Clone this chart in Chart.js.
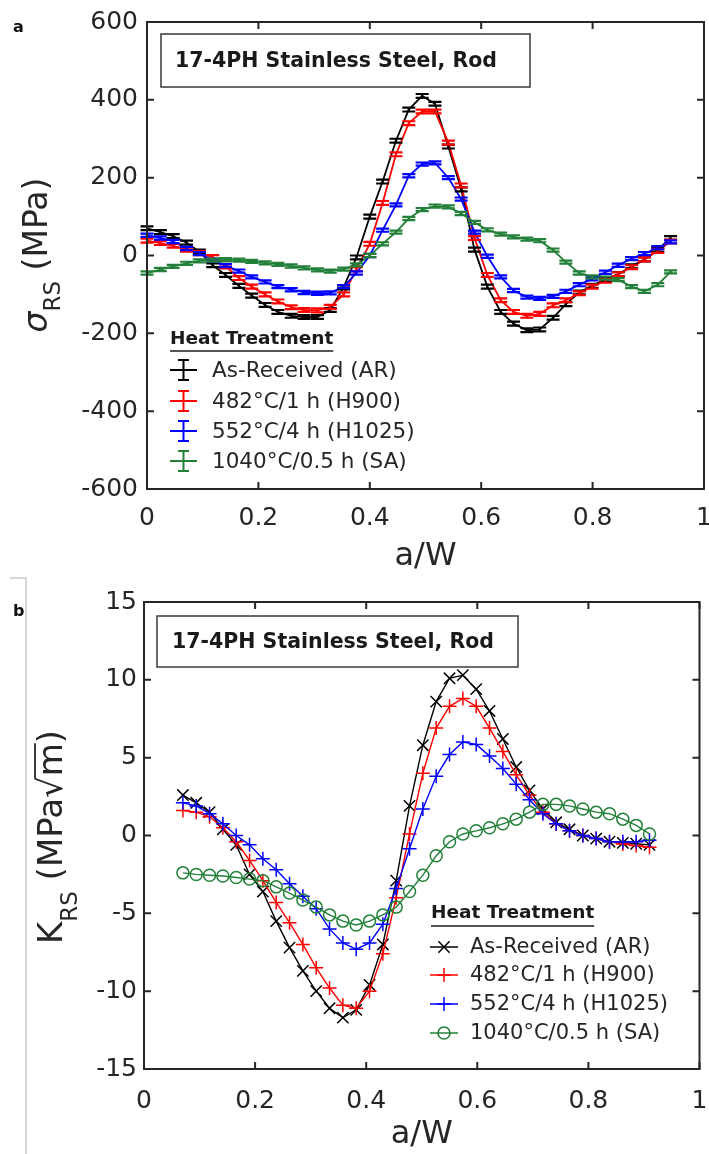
<!DOCTYPE html>
<html>
<head>
<meta charset="utf-8">
<script src="https://cdn.jsdelivr.net/npm/chart.js@4.4.1/dist/chart.umd.min.js"></script>
<style>
  body { margin: 0; background: #fff; width: 709px; height: 1154px; overflow: hidden; position: relative; }
  canvas { position: absolute; left: 0; }
  #stressChart { top: 0; }
  #kChart { top: 576px; }
</style>
</head>
<body>
<canvas id="stressChart" width="709" height="576"></canvas>
<canvas id="kChart" width="709" height="578"></canvas>
<script>
// residual stress profile, a/W positions
const stressDepth = [0.000, 0.024, 0.047, 0.071, 0.094, 0.118, 0.141, 0.165, 0.188, 0.212,
  0.235, 0.259, 0.282, 0.306, 0.329, 0.353, 0.376, 0.400, 0.423, 0.447,
  0.470, 0.494, 0.517, 0.541, 0.564, 0.588, 0.611, 0.635, 0.658, 0.682,
  0.705, 0.729, 0.752, 0.776, 0.799, 0.823, 0.846, 0.870, 0.893, 0.917, 0.940];

// sigma_RS (MPa)
const stressAR = [70, 60, 50, 33, 10, -25, -50, -78, -103, -127,
  -145, -155, -158, -158, -140, -82, -5, 100, 190, 295,
  375, 410, 390, 280, 170, 15, -80, -145, -175, -192,
  -190, -160, -125, -95, -78, -62, -48, -28, -10, 15, 45];
const stressH900 = [38, 32, 25, 15, 6, -4, -28, -58, -80, -100,
  -118, -133, -140, -141, -132, -100, -35, 30, 135, 260,
  340, 370, 370, 290, 180, 45, -50, -115, -145, -155,
  -150, -128, -115, -97, -80, -65, -48, -30, -10, 12, 36];
const stressH1025 = [52, 45, 36, 18, 5, -12, -26, -40, -55, -68,
  -80, -88, -95, -97, -96, -80, -45, 0, 65, 130,
  205, 235, 238, 200, 145, 60, -2, -55, -90, -107,
  -110, -105, -92, -75, -60, -43, -25, -8, 5, 20, 35];
const stressSA = [-45, -36, -28, -20, -14, -12, -11, -12, -15, -19,
  -23, -27, -32, -37, -40, -35, -24, 0, 30, 60,
  95, 118, 127, 125, 108, 85, 66, 55, 48, 42,
  38, 14, -17, -45, -55, -58, -62, -80, -92, -75, -42];
// half-length of the error bars (MPa)
const stressErr = [5, 5, 4, 4];

// stress intensity factor, a/W positions
const kDepth = [0.070, 0.094, 0.118, 0.142, 0.166, 0.190, 0.214, 0.238, 0.262, 0.286,
  0.310, 0.334, 0.358, 0.382, 0.406, 0.430, 0.454, 0.478, 0.502, 0.526,
  0.550, 0.574, 0.598, 0.622, 0.646, 0.670, 0.694, 0.718, 0.742, 0.766,
  0.790, 0.814, 0.838, 0.862, 0.886, 0.910];

// K_RS (MPa sqrt(m))
const kAR = [2.6, 2.1, 1.5, 0.4, -0.6, -2.5, -3.6, -5.5, -7.2, -8.7,
  -10.0, -11.1, -11.7, -11.2, -9.6, -7.0, -2.9, 1.9, 5.8, 8.6,
  10.1, 10.3, 9.4, 8.0, 6.2, 4.4, 2.9, 1.7, 0.85, 0.4,
  0.0, -0.2, -0.4, -0.47, -0.53, -0.6];
const kH900 = [1.6, 1.5, 1.2, 0.5, -0.4, -1.6, -2.9, -4.3, -5.6, -7.0,
  -8.5, -9.8, -10.9, -11.1, -10.0, -7.6, -4.0, 0.1, 4.0, 6.9,
  8.3, 8.8, 8.3, 6.9, 5.4, 3.9, 2.6, 1.5, 0.75, 0.3,
  0.0, -0.2, -0.4, -0.55, -0.65, -0.75];
const kH1025 = [2.1, 1.9, 1.4, 0.75, 0.0, -0.6, -1.5, -2.2, -3.1, -3.9,
  -4.7, -6.0, -6.9, -7.3, -6.9, -5.7, -3.4, -0.85, 1.7, 3.8,
  5.2, 6.0, 5.85, 5.1, 4.3, 3.3, 2.3, 1.4, 0.75, 0.3,
  0.0, -0.2, -0.4, -0.4, -0.4, -0.3];
const kSA = [-2.4, -2.5, -2.55, -2.6, -2.7, -2.8, -2.9, -3.3, -3.7, -4.15,
  -4.6, -5.1, -5.5, -5.75, -5.5, -5.1, -4.6, -3.6, -2.55, -1.3,
  -0.4, 0.1, 0.3, 0.5, 0.75, 1.05, 1.5, 2.0, 2.0, 1.9,
  1.7, 1.5, 1.4, 1.05, 0.65, 0.1];

const seriesNames = ['As-Received (AR)', '482°C/1 h (H900)', '552°C/4 h (H1025)', '1040°C/0.5 h (SA)'];
const seriesColors = ['#000000', '#ff0000', '#0000ff', '#228038'];
const kMarkers = ['crossRot', 'cross', 'cross', 'circle'];

const xTicks = [0, 0.2, 0.4, 0.6, 0.8, 1];
const stressTicks = [-600, -400, -200, 0, 200, 400, 600];
const kTicks = [-15, -10, -5, 0, 5, 10, 15];

const boxTitle = '17-4PH Stainless Steel, Rod';
const legendTitle = 'Heat Treatment';

const FONT = "'DejaVu Sans', sans-serif";
const axisColor = '#262626';
Chart.defaults.font.family = FONT;
Chart.defaults.color = axisColor;

function xAxis(boxHeight, tickPad) {
  return {
    type: 'linear', min: 0, max: 1,
    grid: { display: false, drawTicks: false },
    border: { display: false },
    afterBuildTicks: s => { s.ticks = xTicks.map(v => ({ value: v })); },
    ticks: { padding: tickPad, font: { size: 25 }, maxRotation: 0, autoSkip: false, callback: v => String(v) },
    title: { display: true, text: 'a/W', font: { size: 32 }, padding: 0 },
    afterFit: s => { s.height = boxHeight; s.paddingLeft = 0; s.paddingRight = 0; }
  };
}

function yAxis(ticks, boxWidth, tickPad) {
  return {
    type: 'linear', min: ticks[0], max: ticks[ticks.length - 1],
    grid: { display: false, drawTicks: false },
    border: { display: false },
    afterBuildTicks: s => { s.ticks = ticks.map(v => ({ value: v })); },
    ticks: { padding: tickPad, font: { size: 25 }, autoSkip: false },
    afterFit: s => { s.width = boxWidth; s.paddingTop = 0; s.paddingBottom = 0; }
  };
}

// box around the axes with inward ticks on all four sides
function drawFrame(chart, yTicks) {
  const { ctx, chartArea: a, scales: { x, y } } = chart;
  ctx.save();
  ctx.strokeStyle = axisColor;
  ctx.lineWidth = 2;
  ctx.strokeRect(a.left, a.top, a.right - a.left, a.bottom - a.top);
  ctx.beginPath();
  xTicks.forEach(v => {
    const px = x.getPixelForValue(v);
    ctx.moveTo(px, a.bottom); ctx.lineTo(px, a.bottom - 7);
    ctx.moveTo(px, a.top); ctx.lineTo(px, a.top + 7);
  });
  yTicks.forEach(v => {
    const py = y.getPixelForValue(v);
    ctx.moveTo(a.left, py); ctx.lineTo(a.left + 7, py);
    ctx.moveTo(a.right, py); ctx.lineTo(a.right - 7, py);
  });
  ctx.stroke();
  ctx.restore();
}

function drawTitleBox(ctx, left, top, right, bottom, textX) {
  ctx.save();
  ctx.fillStyle = '#fff';
  ctx.fillRect(left, top, right - left, bottom - top);
  ctx.strokeStyle = '#3a3a3a';
  ctx.lineWidth = 1.5;
  ctx.strokeRect(left, top, right - left, bottom - top);
  ctx.fillStyle = '#1a1a1a';
  ctx.font = 'bold 20.5px ' + FONT;
  ctx.textBaseline = 'middle';
  ctx.fillText(boxTitle, textX, (top + bottom) / 2 + 1);
  ctx.restore();
}

function drawLegendHeader(ctx, x, y, underlineY) {
  ctx.save();
  ctx.fillStyle = '#1a1a1a';
  ctx.font = 'bold 18.5px ' + FONT;
  ctx.textBaseline = 'middle';
  ctx.fillText(legendTitle, x, y);
  const w = ctx.measureText(legendTitle).width;
  ctx.strokeStyle = '#1a1a1a';
  ctx.lineWidth = 1.5;
  ctx.beginPath();
  ctx.moveTo(x, underlineY); ctx.lineTo(x + w, underlineY);
  ctx.stroke();
  ctx.restore();
}

function drawMarker(ctx, style, r, cx, cy) {
  ctx.beginPath();
  if (style === 'circle') {
    ctx.arc(cx, cy, r, 0, Math.PI * 2);
  } else if (style === 'cross') {
    ctx.moveTo(cx - r, cy); ctx.lineTo(cx + r, cy);
    ctx.moveTo(cx, cy - r); ctx.lineTo(cx, cy + r);
  } else {
    const d = r * Math.SQRT1_2;
    ctx.moveTo(cx - d, cy - d); ctx.lineTo(cx + d, cy + d);
    ctx.moveTo(cx - d, cy + d); ctx.lineTo(cx + d, cy - d);
  }
  ctx.stroke();
}

// rotated axis label made of runs of text, some of them lowered as subscripts
function drawYLabel(ctx, parts, baseX, centerY) {
  ctx.save();
  ctx.fillStyle = axisColor;
  ctx.strokeStyle = axisColor;
  ctx.textBaseline = 'alphabetic';
  let total = 0;
  parts.forEach(p => { ctx.font = p.font; p.w = ctx.measureText(p.text).width; total += p.w; });
  ctx.translate(baseX, centerY + total / 2);
  ctx.rotate(-Math.PI / 2);
  let x = 0;
  parts.forEach(p => {
    ctx.font = p.font;
    ctx.fillText(p.text, x, p.dy || 0);
    if (p.overline) {
      ctx.lineWidth = 1.8;
      ctx.beginPath();
      ctx.moveTo(x - 1, p.overline); ctx.lineTo(x + p.w, p.overline);
      ctx.stroke();
    }
    x += p.w;
  });
  ctx.restore();
}

const stressDecor = {
  id: 'stressDecor',
  afterDatasetsDraw(chart) {
    const { ctx, scales: { x, y } } = chart;
    ctx.save();
    ctx.lineWidth = 2.2;
    chart.data.datasets.forEach((ds, i) => {
      ctx.strokeStyle = ds.borderColor;
      ctx.beginPath();
      ds.data.forEach(p => {
        const px = x.getPixelForValue(p.x);
        const lo = y.getPixelForValue(p.y - stressErr[i]);
        const hi = y.getPixelForValue(p.y + stressErr[i]);
        ctx.moveTo(px, lo); ctx.lineTo(px, hi);
        ctx.moveTo(px - 6.5, lo); ctx.lineTo(px + 6.5, lo);
        ctx.moveTo(px - 6.5, hi); ctx.lineTo(px + 6.5, hi);
      });
      ctx.stroke();
    });
    ctx.restore();
  },
  afterDraw(chart) {
    const ctx = chart.ctx;
    drawFrame(chart, stressTicks);
    drawTitleBox(ctx, 161, 34, 530, 87, 175);
    drawLegendHeader(ctx, 170, 339, 351);
    const rows = [370, 401, 431, 461];
    ctx.save();
    ctx.lineWidth = 2;
    rows.forEach((ry, i) => {
      ctx.strokeStyle = seriesColors[i];
      ctx.beginPath();
      ctx.moveTo(170, ry); ctx.lineTo(197, ry);
      ctx.moveTo(183.5, ry - 10); ctx.lineTo(183.5, ry + 10);
      ctx.moveTo(178, ry - 10); ctx.lineTo(189, ry - 10);
      ctx.moveTo(178, ry + 10); ctx.lineTo(189, ry + 10);
      ctx.stroke();
      ctx.fillStyle = '#262626';
      ctx.font = '21.5px ' + FONT;
      ctx.textBaseline = 'middle';
      ctx.fillText(seriesNames[i], 212, ry + 1);
    });
    ctx.fillStyle = '#111';
    ctx.font = 'bold 16px ' + FONT;
    ctx.textBaseline = 'middle';
    ctx.fillText('a', 13, 28);
    ctx.restore();
    drawYLabel(ctx, [
      { text: 'σ', font: 'italic 33px ' + FONT },
      { text: 'RS', font: '23px ' + FONT, dy: 13 },
      { text: ' (MPa)', font: '33px ' + FONT }
    ], 47, 255);
  }
};

const kDecor = {
  id: 'kDecor',
  afterDraw(chart) {
    const ctx = chart.ctx;
    drawFrame(chart, kTicks);
    drawTitleBox(ctx, 157, 40, 518, 91, 172);
    drawLegendHeader(ctx, 431, 337, 350);
    const rows = [371, 399, 428, 457];
    ctx.save();
    rows.forEach((ry, i) => {
      ctx.strokeStyle = seriesColors[i];
      ctx.lineWidth = 1.5;
      ctx.beginPath();
      ctx.moveTo(430, ry); ctx.lineTo(458, ry);
      ctx.stroke();
      drawMarker(ctx, kMarkers[i], kMarkers[i] === 'circle' ? 6 : (kMarkers[i] === 'cross' ? 7 : 8), 444, ry);
      ctx.fillStyle = '#262626';
      ctx.font = '21px ' + FONT;
      ctx.textBaseline = 'middle';
      ctx.fillText(seriesNames[i], 470, ry + 1);
    });
    // panel frame
    ctx.strokeStyle = '#c8c8c8';
    ctx.lineWidth = 1.5;
    ctx.beginPath();
    ctx.moveTo(10, 2); ctx.lineTo(26, 2); ctx.lineTo(26, 578);
    ctx.stroke();
    ctx.fillStyle = '#111';
    ctx.font = 'bold 16px ' + FONT;
    ctx.textBaseline = 'middle';
    ctx.fillText('b', 13, 36);
    ctx.restore();
    drawYLabel(ctx, [
      { text: 'K', font: '34px ' + FONT },
      { text: 'RS', font: '23px ' + FONT, dy: 15 },
      { text: ' (MPa', font: '34px ' + FONT },
      { text: '√', font: '34px ' + FONT },
      { text: 'm', font: '34px ' + FONT, overline: -27 },
      { text: ')', font: '34px ' + FONT }
    ], 62, 261);
  }
};

function seriesData(xs, ys) {
  return xs.map((x, i) => ({ x, y: ys[i] }));
}

new Chart(document.getElementById('stressChart'), {
  type: 'line',
  data: {
    datasets: [stressAR, stressH900, stressH1025, stressSA].map((vals, i) => ({
      label: seriesNames[i],
      data: seriesData(stressDepth, vals),
      borderColor: seriesColors[i],
      borderWidth: 1.8,
      pointRadius: 0,
      order: 3 - i
    }))
  },
  options: {
    responsive: false,
    animation: false,
    devicePixelRatio: 1,
    layout: { padding: { top: 22, right: 5, left: 0, bottom: 0 } },
    plugins: { legend: { display: false }, tooltip: { enabled: false } },
    scales: {
      x: xAxis(576 - 489, 14),
      y: yAxis(stressTicks, 147, 9)
    }
  },
  plugins: [stressDecor]
});

new Chart(document.getElementById('kChart'), {
  type: 'line',
  data: {
    datasets: [kAR, kH900, kH1025, kSA].map((vals, i) => ({
      label: seriesNames[i],
      data: seriesData(kDepth, vals),
      borderColor: seriesColors[i],
      borderWidth: 1.4,
      pointStyle: kMarkers[i],
      pointRadius: kMarkers[i] === 'circle' ? 6 : (kMarkers[i] === 'cross' ? 7 : 8),
      pointBorderWidth: 1.5,
      pointBorderColor: seriesColors[i],
      pointBackgroundColor: 'rgba(0,0,0,0)',
      order: 3 - i
    }))
  },
  options: {
    responsive: false,
    animation: false,
    devicePixelRatio: 1,
    layout: { padding: { top: 26, right: 5, left: 0, bottom: 0 } },
    plugins: { legend: { display: false }, tooltip: { enabled: false } },
    scales: {
      x: xAxis(578 - 493, 17),
      y: yAxis(kTicks, 144, 7)
    }
  },
  plugins: [kDecor]
});
</script>
</body>
</html>
